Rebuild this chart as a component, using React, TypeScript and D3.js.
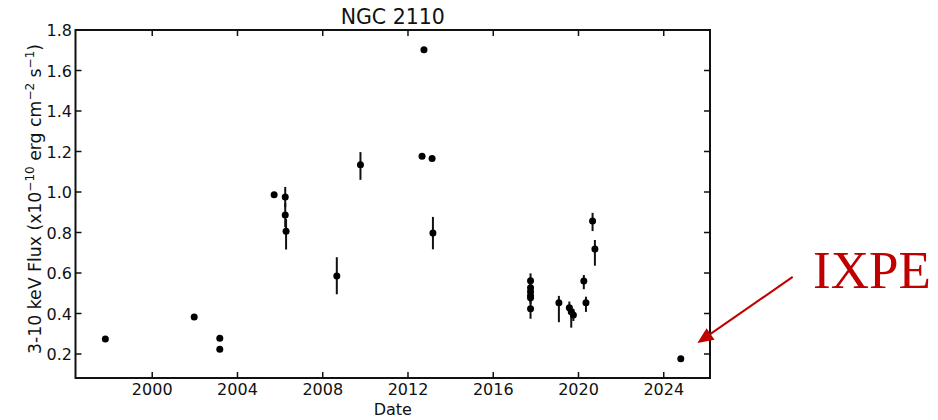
import React from "react";
import * as d3 from "d3";

const dates = [1997.8, 2001.97, 2003.17, 2003.17, 2005.72, 2006.24, 2006.24, 2006.28, 2008.66, 2009.77, 2012.66, 2012.75, 2013.13, 2013.17, 2017.75, 2017.75, 2017.75, 2017.75, 2017.75, 2017.75, 2019.08, 2019.57, 2019.66, 2019.76, 2020.25, 2020.35, 2020.66, 2020.77, 2024.8];
const fluxes = [0.274, 0.383, 0.278, 0.223, 0.987, 0.975, 0.886, 0.806, 0.585, 1.135, 1.176, 1.703, 1.166, 0.797, 0.562, 0.527, 0.508, 0.488, 0.478, 0.424, 0.453, 0.429, 0.409, 0.393, 0.560, 0.453, 0.857, 0.718, 0.177];
const errLow = [0, 0, 0, 0, 0, 0.05, 0.06, 0.09, 0.09, 0.075, 0, 0, 0, 0.08, 0.03, 0.03, 0.03, 0.03, 0.03, 0.05, 0.096, 0.03, 0.079, 0.03, 0.04, 0.045, 0.05, 0.082, 0.012];
const errHigh = [0, 0, 0, 0, 0, 0.05, 0.06, 0.06, 0.093, 0.062, 0, 0, 0, 0.08, 0.036, 0.03, 0.03, 0.03, 0.03, 0.05, 0.034, 0.03, 0.03, 0.03, 0.03, 0.03, 0.04, 0.045, 0.012];

const xTicks = [2000, 2004, 2008, 2012, 2016, 2020, 2024];
const yTicks = [0.2, 0.4, 0.6, 0.8, 1.0, 1.2, 1.4, 1.6, 1.8];

const title = "NGC 2110";
const xLabel = "Date";
const annotationText = "IXPE";
const arrowFrom = [2030.05, 0.581];
const arrowTo = [2025.58, 0.254];

const W = 938;
const H = 420;
const left = 75.5, right = 710, top = 30, bottom = 378;
const font = "'DejaVu Sans', sans-serif";
const red = "#c00000";

export default function App() {
  const x = d3.scaleLinear().domain([1996.4, 2026.17]).range([left, right]);
  const y = d3.scaleLinear().domain([0.0815, 1.8]).range([bottom, top]);
  const tl = 6;
  const ax = x(arrowFrom[0]), ay = y(arrowFrom[1]);
  const bx = x(arrowTo[0]), by = y(arrowTo[1]);
  const ang = Math.atan2(by - ay, bx - ax);
  const hl = 16, hw = 7;
  const baseX = bx - hl * Math.cos(ang), baseY = by - hl * Math.sin(ang);
  const head = [
    [bx, by],
    [baseX + hw * Math.sin(ang), baseY - hw * Math.cos(ang)],
    [baseX - hw * Math.sin(ang), baseY + hw * Math.cos(ang)],
  ];
  return (
    <svg width={W} height={H} style={{ position: "absolute", left: 0, top: 0, background: "#fff" }}>
      <rect x={0} y={0} width={W} height={H} fill="#fff" />
      <text x={(left + right) / 2} y={24} textAnchor="middle" fontFamily={font} fontSize={20.5} fill="#111">{title}</text>
      {dates.map((d, i) =>
        errLow[i] + errHigh[i] > 0 ? (
          <line key={"e" + i} x1={x(d)} x2={x(d)} y1={y(fluxes[i] - errLow[i])} y2={y(fluxes[i] + errHigh[i])} stroke="#111" strokeWidth={2} />
        ) : null
      )}
      {dates.map((d, i) => (
        <circle key={"p" + i} cx={x(d)} cy={y(fluxes[i])} r={3.5} fill="#000" />
      ))}
      <rect x={left} y={top} width={right - left} height={bottom - top} fill="none" stroke="#111" strokeWidth={2} />
      {xTicks.map((t) => (
        <g key={"x" + t}>
          <line x1={x(t)} x2={x(t)} y1={bottom} y2={bottom - tl} stroke="#111" strokeWidth={1.5} />
          <line x1={x(t)} x2={x(t)} y1={top} y2={top + tl} stroke="#111" strokeWidth={1.5} />
          <text x={x(t)} y={395} textAnchor="middle" fontFamily={font} fontSize={16} fill="#111">{t}</text>
        </g>
      ))}
      {yTicks.map((t) => (
        <g key={"y" + t}>
          <line x1={left} x2={left + tl} y1={y(t)} y2={y(t)} stroke="#111" strokeWidth={1.5} />
          <line x1={right} x2={right - tl} y1={y(t)} y2={y(t)} stroke="#111" strokeWidth={1.5} />
          <text x={72} y={y(t) + 6} textAnchor="end" fontFamily={font} fontSize={16} fill="#111">{t.toFixed(1)}</text>
        </g>
      ))}
      <text x={(left + right) / 2} y={415} textAnchor="middle" fontFamily={font} fontSize={16} fill="#111">{xLabel}</text>
      <text transform={`translate(41,199) rotate(-90)`} textAnchor="middle" fontFamily={font} fontSize={17.3} fill="#111">
        3-10 keV Flux (x10<tspan dy={-7} fontSize={12}>−10</tspan><tspan dy={7}> erg cm</tspan><tspan dy={-7} fontSize={12}>−2</tspan><tspan dy={7}> s</tspan><tspan dy={-7} fontSize={12}>−1</tspan><tspan dy={7}>)</tspan>
      </text>
      <line x1={ax} y1={ay} x2={baseX} y2={baseY} stroke={red} strokeWidth={2} />
      <polygon points={head.map((p) => p.join(",")).join(" ")} fill={red} />
      <text x={813} y={288} fontFamily="'Liberation Serif', serif" fontSize={53} fill={red}>{annotationText}</text>
    </svg>
  );
}
